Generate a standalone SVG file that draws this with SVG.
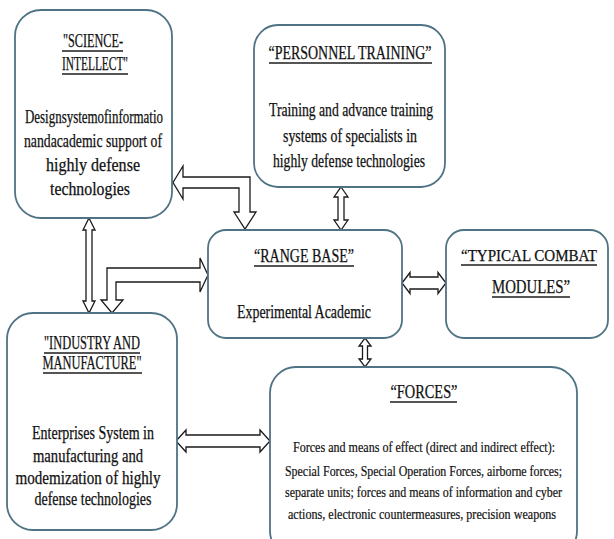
<svg xmlns="http://www.w3.org/2000/svg" width="614" height="539" viewBox="0 0 614 539">
<style>
.box{fill:#fff;stroke:#4f7384;stroke-width:1.8}
.t{font-family:"Liberation Serif","Times New Roman",Tinos,"DejaVu Serif",serif;font-size:18px;fill:#111;text-anchor:middle;stroke:#111;stroke-width:0.25}
.s{font-family:"Liberation Serif","Times New Roman",Tinos,"DejaVu Serif",serif;font-size:14px;fill:#111;text-anchor:middle;stroke:#111;stroke-width:0.2}
.u{stroke:#1c1c1c;stroke-width:1.6}
.ar{fill:#fff;stroke:#1a1a1a;stroke-width:1.3;stroke-linejoin:miter}
</style>
<rect width="614" height="539" fill="#fff"/>
<g id="connectors">
<polygon class="ar" points="173,182.5 183,166 183,177 250,177 250,212 256,212 245,229 234,212 239,212 239,188 183,188 183,199"/>
<polygon class="ar" points="341,187 348,197 344,197 344,220 348,220 341,230 334,220 338,220 338,197 334,197"/>
<polygon class="ar" points="89,218 95,230 92,230 92,301 95,301 89,313 83,301 86,301 86,230 83,230"/>
<polygon class="ar" points="208,275 200,258 200,268 107,268 107,300 101,300 112,313 123,300 116,300 116,282 200,282 200,292"/>
<polygon class="ar" points="402,283 410,272.5 410,277 438,277 438,272.5 446,283 438,293.5 438,289 410,289 410,293.5"/>
<polygon class="ar" points="365,338 371,346 367.5,346 367.5,359 371,359 365,367 359,359 362.5,359 362.5,346 359,346"/>
<polygon class="ar" points="176,441 186,430 186,435 260,435 260,430 270,441 260,452 260,447 186,447 186,452"/>
</g>
<g id="science">
<rect class="box" x="15" y="10" width="157" height="208" rx="26"/>
<text class="t" x="93" y="47" textLength="60" lengthAdjust="spacingAndGlyphs">"SCIENCE-</text>
<line class="u" x1="62" y1="51" x2="123" y2="51"/>
<text class="t" x="95" y="70" textLength="66" lengthAdjust="spacingAndGlyphs">INTELLECT"</text>
<line class="u" x1="62" y1="74" x2="128" y2="74"/>
<text class="t" x="94" y="123" textLength="138" lengthAdjust="spacingAndGlyphs">Designsystemofinformatio</text>
<text class="t" x="93" y="147" textLength="138" lengthAdjust="spacingAndGlyphs">nandacademic support of</text>
<text class="t" x="93" y="171" textLength="94" lengthAdjust="spacingAndGlyphs">highly defense</text>
<text class="t" x="90" y="195" textLength="80" lengthAdjust="spacingAndGlyphs">technologies</text>
</g>
<g id="personnel">
<rect class="box" x="254" y="25" width="191" height="162" rx="24"/>
<text class="t" x="350" y="59" textLength="163" lengthAdjust="spacingAndGlyphs">“PERSONNEL TRAINING”</text>
<line class="u" x1="269" y1="63" x2="432" y2="63"/>
<text class="t" x="351" y="116" textLength="164" lengthAdjust="spacingAndGlyphs">Training and advance training</text>
<text class="t" x="350" y="142" textLength="134" lengthAdjust="spacingAndGlyphs">systems of specialists in</text>
<text class="t" x="349" y="167" textLength="152" lengthAdjust="spacingAndGlyphs">highly defense technologies</text>
</g>
<g id="range">
<rect class="box" x="208" y="230" width="194" height="108" rx="18"/>
<text class="t" x="304" y="262" textLength="100" lengthAdjust="spacingAndGlyphs">“RANGE BASE”</text>
<line class="u" x1="254" y1="266" x2="354" y2="266"/>
<text class="t" x="304" y="318" textLength="134" lengthAdjust="spacingAndGlyphs">Experimental Academic</text>
</g>
<g id="typical">
<rect class="box" x="446" y="230" width="162" height="108" rx="18"/>
<text class="t" x="529" y="261" style="font-size:16px" textLength="136" lengthAdjust="spacingAndGlyphs">“TYPICAL COMBAT</text>
<line class="u" x1="461" y1="265" x2="597" y2="265"/>
<text class="t" x="531" y="293" textLength="78" lengthAdjust="spacingAndGlyphs">MODULES”</text>
<line class="u" x1="492" y1="297" x2="570" y2="297"/>
</g>
<g id="industry">
<rect class="box" x="7" y="313" width="170" height="217" rx="26"/>
<text class="t" x="92" y="349" textLength="96" lengthAdjust="spacingAndGlyphs">"INDUSTRY AND</text>
<line class="u" x1="44" y1="353" x2="140" y2="353"/>
<text class="t" x="92" y="369" textLength="99" lengthAdjust="spacingAndGlyphs">MANUFACTURE"</text>
<line class="u" x1="43" y1="373" x2="142" y2="373"/>
<text class="t" x="93" y="439" textLength="122" lengthAdjust="spacingAndGlyphs">Enterprises System in</text>
<text class="t" x="88" y="462" textLength="110" lengthAdjust="spacingAndGlyphs">manufacturing and</text>
<text class="t" x="88" y="484" textLength="145" lengthAdjust="spacingAndGlyphs">modemization of highly</text>
<text class="t" x="93" y="505" textLength="117" lengthAdjust="spacingAndGlyphs">defense technologies</text>
</g>
<g id="forces">
<rect class="box" x="270" y="367" width="307" height="190" rx="26"/>
<text class="t" x="424" y="398" textLength="67" lengthAdjust="spacingAndGlyphs">“FORCES”</text>
<line class="u" x1="390" y1="402" x2="457" y2="402"/>
<text class="s" x="424" y="452" textLength="262" lengthAdjust="spacingAndGlyphs">Forces and means of effect (direct and indirect effect):</text>
<text class="s" x="423.5" y="476" textLength="277" lengthAdjust="spacingAndGlyphs">Special Forces, Special Operation Forces,  airborne forces;</text>
<text class="s" x="423.5" y="497" textLength="277" lengthAdjust="spacingAndGlyphs">separate units; forces and means of information  and cyber</text>
<text class="s" x="422" y="519" textLength="268" lengthAdjust="spacingAndGlyphs">actions, electronic countermeasures, precision weapons</text>
</g>
</svg>
